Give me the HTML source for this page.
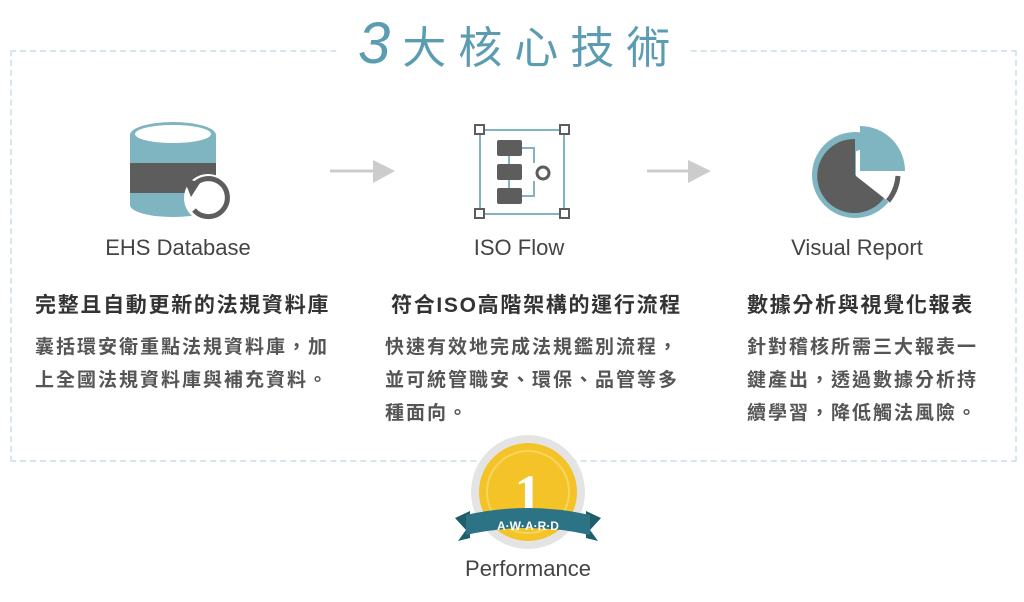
<!DOCTYPE html>
<html><head><meta charset="utf-8"><style>
body{margin:0;width:1024px;height:602px;background:#fff;position:relative;overflow:hidden;font-family:"Liberation Sans","Noto Sans CJK TC",sans-serif}
.a{position:absolute;white-space:nowrap}
.lab{font-size:22px;color:#444;text-align:center;width:260px}
.h{font-size:21px;font-weight:bold;color:#333;letter-spacing:1.7px}
.b{font-size:19px;font-weight:bold;color:#555;line-height:33px;letter-spacing:2px}
</style></head><body>
<div class="a" style="left:10px;top:50px;width:1003px;height:408px;border:2px dashed #d6e6ec;border-radius:2px"></div>
<div class="a" style="left:340px;top:10px;width:350px;height:60px;background:#fff"></div>
<div class="a" style="left:358px;top:10px;font-size:44px;color:#5b9cb3;letter-spacing:12px;font-family:'Noto Sans CJK TC',sans-serif"><span style="font-size:58px;font-style:italic;font-family:'Liberation Sans'">3</span>大核心技術</div>
<svg class="a" style="left:0;top:0" width="1024" height="602">
<g>
<path d="M130 135 v70 a43 12 0 0 0 86 0 v-70z" fill="#7fb4c1"/>
<rect x="130" y="163" width="86" height="30" fill="#5e5d5d"/>
<ellipse cx="173" cy="135" rx="43" ry="13" fill="#7fb4c1"/>
<ellipse cx="173" cy="134" rx="38" ry="9" fill="#fff"/>
<circle cx="208" cy="198" r="24" fill="#fff"/>
<path d="M192 188 A19 19 0 1 1 194 210" fill="none" stroke="#5e5d5d" stroke-width="5"/>
<path d="M183 177 L200 183 L191 197 Z" fill="#5e5d5d"/>
</g>
<line x1="330" y1="171" x2="375" y2="171" stroke="#ccc" stroke-width="3"/><path d="M373 160 L395 171 L373 183Z" fill="#ccc"/>
<line x1="647" y1="171" x2="690" y2="171" stroke="#ccc" stroke-width="3"/><path d="M688 160 L711 171 L688 183Z" fill="#ccc"/>
<g>
<rect x="480" y="130" width="84" height="84" fill="none" stroke="#7fb4c1" stroke-width="2"/>
<g fill="#fff" stroke="#5e5d5d" stroke-width="2"><rect x="475" y="125" width="9" height="9"/><rect x="560" y="125" width="9" height="9"/><rect x="475" y="209" width="9" height="9"/><rect x="560" y="209" width="9" height="9"/></g>
<g fill="#5e5d5d"><rect x="497" y="140" width="25" height="16" rx="2"/><rect x="497" y="164" width="25" height="16" rx="2"/><rect x="497" y="188" width="25" height="16" rx="2"/></g>
<path d="M509 156v8M509 180v8M522 148h12v15M522 196h12v-15" stroke="#7fb4c1" stroke-width="2" fill="none"/>
<circle cx="543" cy="173" r="6" fill="none" stroke="#5e5d5d" stroke-width="3"/>
</g>
<g>
<circle cx="855" cy="175" r="43" fill="#7fb4c1"/>
<path d="M855 175 L855 139 A37 37 0 1 0 884 198 Z" fill="#5e5d5d"/>
<clipPath id="c"><path d="M856 176 L856 120 L920 120 L920 230 L884 198Z"/></clipPath>
<circle cx="870" cy="178" r="30" fill="#fff" clip-path="url(#c)"/>
<path d="M860 126 A45 45 0 0 1 905 171 L860 171Z" fill="#7fb4c1"/>
<path d="M898 176 A45 45 0 0 1 888 201" stroke="#5e5d5d" stroke-width="5" fill="none"/>
</g>
<circle cx="528" cy="492" r="57" fill="#e4e4e4"/>
<circle cx="528" cy="492" r="49" fill="#f3c327"/>
<circle cx="528" cy="492" r="41" fill="none" stroke="#f7d660" stroke-width="2"/>
<text x="528" y="512" font-family="Liberation Serif" font-weight="bold" font-size="54" fill="#fff" text-anchor="middle">1</text>
<path d="M455 518 L470 511 L470 538 L458 541 L466 530Z" fill="#1f5d6c"/>
<path d="M601 518 L586 511 L586 538 L598 541 L590 530Z" fill="#1f5d6c"/>
<path d="M466 515 Q528 501 590 515 L590 535 Q528 521 466 535Z" fill="#2c7386"/>
<text x="528" y="530" font-family="Liberation Sans" font-weight="bold" font-size="12" fill="#fff" text-anchor="middle">A·W·A·R·D</text>
</svg>
<div class="a lab" style="left:48px;top:235px">EHS Database</div>
<div class="a lab" style="left:389px;top:235px">ISO Flow</div>
<div class="a lab" style="left:727px;top:235px">Visual Report</div>
<div class="a h" style="left:35px;top:289px">完整且自動更新的法規資料庫</div>
<div class="a h" style="left:391px;top:289px">符合ISO高階架構的運行流程</div>
<div class="a h" style="left:747px;top:289px">數據分析與視覺化報表</div>
<div class="a b" style="left:35px;top:331px">囊括環安衛重點法規資料庫，加<br>上全國法規資料庫與補充資料。</div>
<div class="a b" style="left:385px;top:331px">快速有效地完成法規鑑別流程，<br>並可統管職安、環保、品管等多<br>種面向。</div>
<div class="a b" style="left:747px;top:331px">針對稽核所需三大報表一<br>鍵產出，透過數據分析持<br>續學習，降低觸法風險。</div>
<div class="a lab" style="left:398px;top:556px;font-size:22px">Performance</div>
</body></html>
